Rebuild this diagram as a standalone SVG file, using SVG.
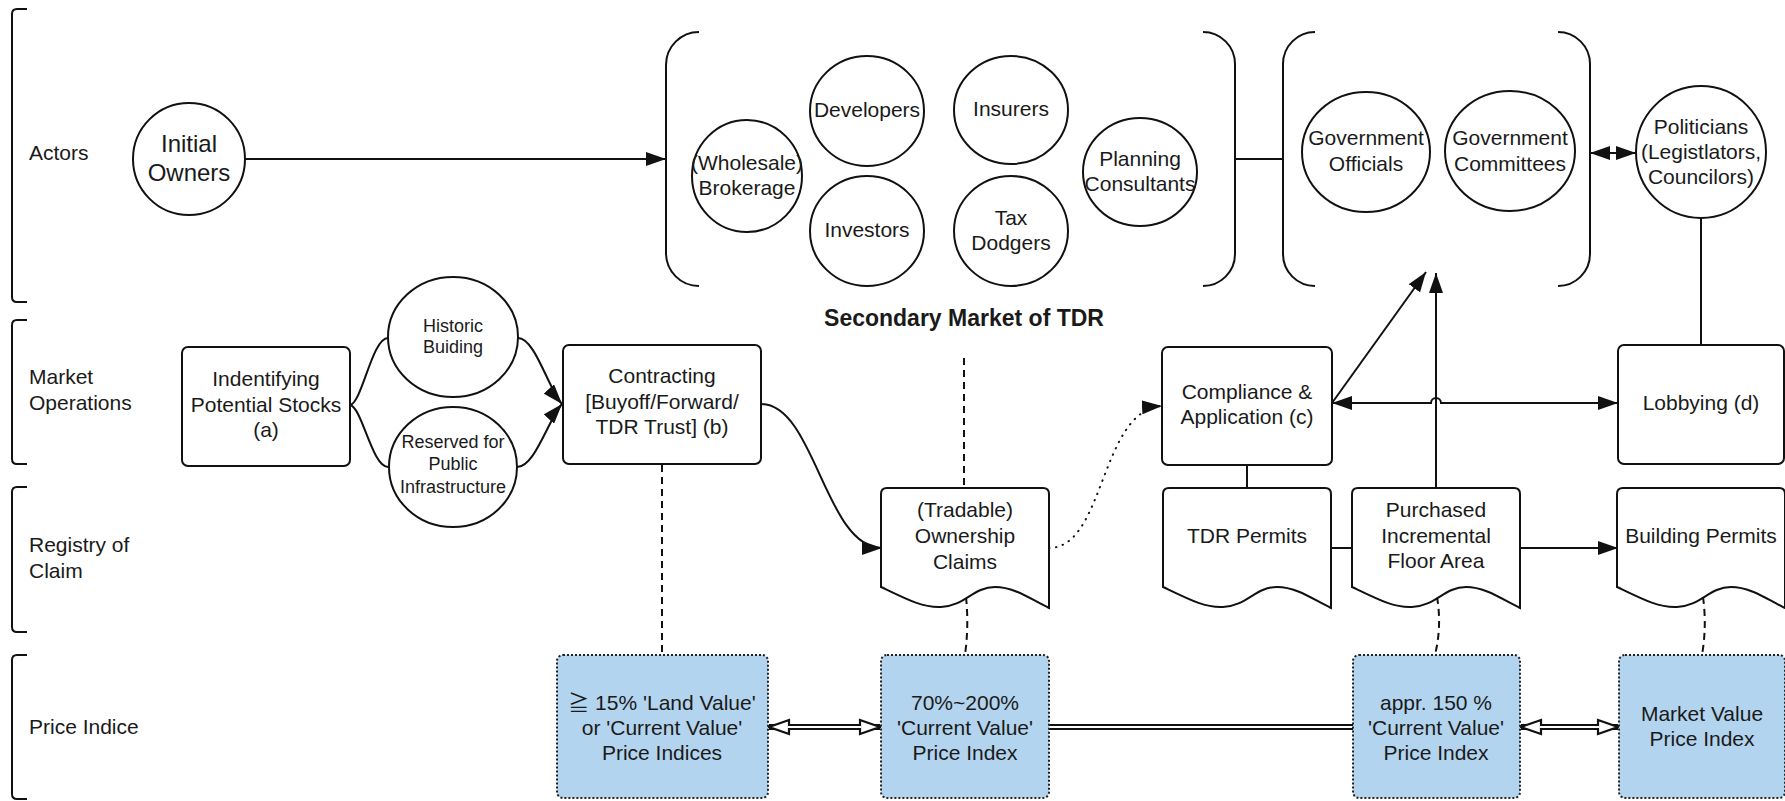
<svg xmlns="http://www.w3.org/2000/svg" width="1785" height="801" viewBox="0 0 1785 801">
<style>
text{font-family:"Liberation Sans",Arial,"Noto Sans CJK JP",sans-serif;fill:#1a1a1a}
.c{text-anchor:middle;font-size:21px}
.s{text-anchor:middle;font-size:18px}
.big{text-anchor:middle;font-size:24px}
.lane{font-size:21px}
.title{text-anchor:middle;font-size:23px;font-weight:bold}
.shape{fill:#fff;stroke:#111;stroke-width:2}
.bracket{fill:none;stroke:#111;stroke-width:2}
.price{fill:#b3d4ee;stroke:#222;stroke-width:2;stroke-dasharray:2 2}
.ln{fill:none;stroke:#111;stroke-width:2}
.arr{marker-end:url(#ah)}
.arr2{marker-start:url(#ah);marker-end:url(#ah)}
.dash{fill:none;stroke:#111;stroke-width:2;stroke-dasharray:7 5}
.dot{fill:none;stroke:#111;stroke-width:2;stroke-dasharray:0.5 6.5;stroke-linecap:round}
.dbl{fill:none;stroke:#111;stroke-width:6}
.dbl-h{marker-start:url(#hh);marker-end:url(#hh)}
.dbl-in{fill:none;stroke:#fff;stroke-width:2}
</style>
<defs>
  <marker id="ah" markerUnits="userSpaceOnUse" viewBox="0 0 20 14" markerWidth="20" markerHeight="14" refX="20" refY="7" orient="auto-start-reverse">
    <path d="M0 0 L20 7 L0 14 Z" fill="#111"/>
  </marker>
  <marker id="hh" markerUnits="userSpaceOnUse" viewBox="-2 -2 24 18" markerWidth="24" markerHeight="18" refX="20" refY="7" orient="auto-start-reverse">
    <path d="M0 0 L20 7 L0 14 Z" fill="#fff" stroke="#111" stroke-width="2.2"/>
  </marker>
  <!-- document shape with wavy bottom, 168 x 120 -->
  <path id="doc" d="M0 6 Q0 0 6 0 H162 Q168 0 168 6 V120 C151 112 134 99 114 99 C92 99 84 118 60 119 C42 120 25 111 0 99 Z"/>
</defs>

<!-- swimlane brackets and labels -->
<g id="lanes">
  <path class="bracket" d="M27 9 H17 Q12 9 12 14 V297 Q12 302 17 302 H27"/>
  <path class="bracket" d="M27 320 H17 Q12 320 12 325 V459 Q12 464 17 464 H27"/>
  <path class="bracket" d="M27 487 H17 Q12 487 12 492 V627 Q12 632 17 632 H27"/>
  <path class="bracket" d="M27 655 H17 Q12 655 12 660 V794 Q12 799 17 799 H27"/>
  <text class="lane" x="29" y="160">Actors</text>
  <text class="lane" x="29" y="384">Market</text>
  <text class="lane" x="29" y="410">Operations</text>
  <text class="lane" x="29" y="552">Registry of</text>
  <text class="lane" x="29" y="578">Claim</text>
  <text class="lane" x="29" y="734">Price Indice</text>
</g>

<!-- group brackets -->
<g id="secondary-market">
  <path class="bracket" d="M699 32 A33 33 0 0 0 666 65 V253 A33 33 0 0 0 699 286"/>
  <path class="bracket" d="M1203 32 A32 32 0 0 1 1235 64 V254 A32 32 0 0 1 1203 286"/>
  <text class="title" x="964" y="326">Secondary Market of TDR</text>
</g>
<g id="government">
  <path class="bracket" d="M1315 32 A32 32 0 0 0 1283 64 V254 A32 32 0 0 0 1315 286"/>
  <path class="bracket" d="M1558 32 A32 32 0 0 1 1590 64 V254 A32 32 0 0 1 1558 286"/>
</g>

<!-- connectors -->
<g id="connectors">
  <path class="ln arr" d="M245 159 H666"/>
  <path class="ln" d="M1235 159 H1283"/>
  <path class="ln arr2" d="M1590 153 H1636"/>
  <path class="ln" d="M1701 218 V345"/>
  <path class="ln" d="M350 405 C362 403 372 338 388 338"/>
  <path class="ln" d="M350 405 C362 407 372 467 388 467"/>
  <path class="ln arr" d="M518 338 C535 338 548 388 562 404"/>
  <path class="ln arr" d="M517 467 C535 467 548 420 562 404"/>
  <path class="ln arr" d="M761 404 C815 404 825 548 882 548"/>
  <path class="dot arr" d="M1049 548 C1105 548 1100 410 1162 406"/>
  <path class="ln" d="M1247 465 V488"/>
  <path class="ln" d="M1331 548 H1352"/>
  <path class="ln arr" d="M1520 548 H1618"/>
  <path class="ln arr" d="M1436 488 V273"/>
  <path class="ln arr" d="M1332 403 L1426 272"/>
  <path class="ln arr2" d="M1332 403 H1431 A5 5 0 0 1 1441 403 H1618"/>
  <path class="dash" d="M964 358 V488"/>
  <path class="dash" d="M662 465 V655"/>
  <path class="dash" d="M966 597 Q969 626 965 655"/>
  <path class="dash" d="M1437 597 Q1442 626 1435 655"/>
  <path class="dash" d="M1703 597 Q1707 626 1702 655"/>
  <path class="dbl dbl-h" d="M769 727 H880"/>
  <path class="dbl-in" d="M788 727 H861"/>
  <path class="dbl" d="M1049 727 H1353"/>
  <path class="dbl-in" d="M1049 727 H1353"/>
  <path class="dbl dbl-h" d="M1521 727 H1618"/>
  <path class="dbl-in" d="M1540 727 H1599"/>
</g>

<!-- actors -->
<g id="initial-owners"><ellipse class="shape" cx="189" cy="159" rx="56" ry="56"/><text class="big" x="189" y="152">Initial</text><text class="big" x="189" y="181">Owners</text></g>
<g id="brokerage"><ellipse class="shape" cx="747" cy="176" rx="55" ry="56"/><text class="c" x="747" y="170">(Wholesale)</text><text class="c" x="747" y="195">Brokerage</text></g>
<g id="developers"><ellipse class="shape" cx="867" cy="111" rx="57" ry="55"/><text class="c" x="867" y="117">Developers</text></g>
<g id="insurers"><ellipse class="shape" cx="1011" cy="110" rx="57" ry="54"/><text class="c" x="1011" y="116">Insurers</text></g>
<g id="investors"><ellipse class="shape" cx="867" cy="231" rx="57" ry="55"/><text class="c" x="867" y="237">Investors</text></g>
<g id="tax-dodgers"><ellipse class="shape" cx="1011" cy="231" rx="57" ry="55"/><text class="c" x="1011" y="225">Tax</text><text class="c" x="1011" y="250">Dodgers</text></g>
<g id="planning-consultants"><ellipse class="shape" cx="1140" cy="172" rx="57" ry="54"/><text class="c" x="1140" y="166">Planning</text><text class="c" x="1140" y="191">Consultants</text></g>
<g id="gov-officials"><ellipse class="shape" cx="1366" cy="152" rx="64" ry="60"/><text class="c" x="1366" y="145">Government</text><text class="c" x="1366" y="171">Officials</text></g>
<g id="gov-committees"><ellipse class="shape" cx="1510" cy="151" rx="65" ry="60"/><text class="c" x="1510" y="145">Government</text><text class="c" x="1510" y="171">Committees</text></g>
<g id="politicians"><ellipse class="shape" cx="1701" cy="152" rx="65" ry="66"/><text class="c" x="1701" y="134">Politicians</text><text class="c" x="1701" y="159">(Legistlators,</text><text class="c" x="1701" y="184">Councilors)</text></g>

<!-- market operations -->
<g id="identifying"><rect class="shape" x="182" y="347" width="168" height="119" rx="6"/><text class="c" x="266" y="386">Indentifying</text><text class="c" x="266" y="412">Potential Stocks</text><text class="c" x="266" y="437">(a)</text></g>
<g id="historic-building"><ellipse class="shape" cx="453" cy="337" rx="65" ry="60"/><text class="s" x="453" y="332">Historic</text><text class="s" x="453" y="353">Buiding</text></g>
<g id="public-infrastructure"><ellipse class="shape" cx="453" cy="467" rx="64" ry="60"/><text class="s" x="453" y="448">Reserved for</text><text class="s" x="453" y="470">Public</text><text class="s" x="453" y="493">Infrastructure</text></g>
<g id="contracting"><rect class="shape" x="563" y="345" width="198" height="119" rx="6"/><text class="c" x="662" y="383">Contracting</text><text class="c" x="662" y="409">[Buyoff/Forward/</text><text class="c" x="662" y="434">TDR Trust] (b)</text></g>
<g id="compliance"><rect class="shape" x="1162" y="347" width="170" height="118" rx="6"/><text class="c" x="1247" y="399">Compliance &amp;</text><text class="c" x="1247" y="424">Application (c)</text></g>
<g id="lobbying"><rect class="shape" x="1618" y="345" width="166" height="119" rx="6"/><text class="c" x="1701" y="410">Lobbying (d)</text></g>

<!-- registry of claim -->
<g id="ownership-claims"><use href="#doc" class="shape" x="881" y="488"/><text class="c" x="965" y="517">(Tradable)</text><text class="c" x="965" y="543">Ownership</text><text class="c" x="965" y="569">Claims</text></g>
<g id="tdr-permits"><use href="#doc" class="shape" x="1163" y="488"/><text class="c" x="1247" y="543">TDR Permits</text></g>
<g id="incremental-floor-area"><use href="#doc" class="shape" x="1352" y="488"/><text class="c" x="1436" y="517">Purchased</text><text class="c" x="1436" y="543">Incremental</text><text class="c" x="1436" y="568">Floor Area</text></g>
<g id="building-permits"><use href="#doc" class="shape" x="1617" y="488"/><text class="c" x="1701" y="543">Building Permits</text></g>

<!-- price indices -->
<g id="price-land"><rect class="price" x="557" y="655" width="211" height="143" rx="6"/><text class="c" x="662" y="710">≧ 15% 'Land Value'</text><text class="c" x="662" y="735">or 'Current Value'</text><text class="c" x="662" y="760">Price Indices</text></g>
<g id="price-current"><rect class="price" x="881" y="655" width="168" height="143" rx="6"/><text class="c" x="965" y="710">70%~200%</text><text class="c" x="965" y="735">'Current Value'</text><text class="c" x="965" y="760">Price Index</text></g>
<g id="price-appr"><rect class="price" x="1353" y="655" width="167" height="143" rx="6"/><text class="c" x="1436" y="710">appr. 150 %</text><text class="c" x="1436" y="735">'Current Value'</text><text class="c" x="1436" y="760">Price Index</text></g>
<g id="price-market"><rect class="price" x="1619" y="655" width="166" height="143" rx="6"/><text class="c" x="1702" y="721">Market Value</text><text class="c" x="1702" y="746">Price Index</text></g>
</svg>
